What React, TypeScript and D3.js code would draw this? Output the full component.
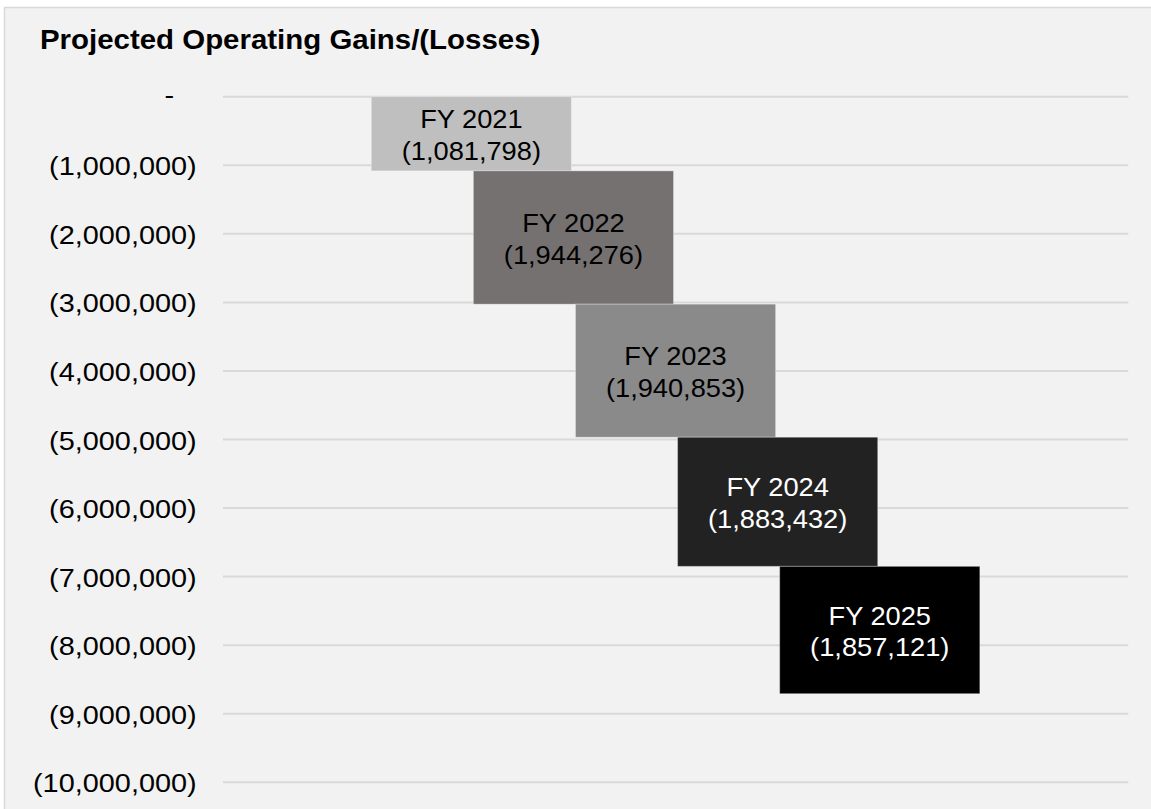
import React from "react";
import * as d3 from "d3";

const categories = ["FY 2021", "FY 2022", "FY 2023", "FY 2024", "FY 2025"];
const values = [-1081798, -1944276, -1940853, -1883432, -1857121];
const barColors = ["#bfbfbf", "#767171", "#8a8a8a", "#222222", "#000000"];
const labelColors = ["#000000", "#000000", "#000000", "#ffffff", "#ffffff"];
const yTicks = [0, -1000000, -2000000, -3000000, -4000000, -5000000, -6000000, -7000000, -8000000, -9000000, -10000000];
const title = "Projected Operating Gains/(Losses)";

const W = 1151;
const H = 809;
const SX = 1.09; // horizontal stretch of text in the reference
const FONT = "'Liberation Sans', Arial, sans-serif";

export default function App() {
  const y = d3.scaleLinear().domain([0, -10000000]).range([96.7, 782.3]);
  const x = d3.scaleBand<string>().domain(categories).range([420.3, 930.8]).padding(0);
  const barW = x.bandwidth() * 1.96;
  const gridX0 = 223;
  const gridX1 = 1128.3;

  let running = 0;
  const bars = values.map((v, i) => {
    const start = running;
    running += v;
    return { cat: categories[i], start, end: running, v, i };
  });

  const num = d3.format(",");
  const tickFmt = (t: number) => (t === 0 ? "-" : `(${num(Math.abs(t))})`);

  return (
    <svg width={W} height={H} style={{ position: "absolute", left: 0, top: 0, display: "block" }} fontFamily={FONT}>
      <rect x={0} y={0} width={W} height={H} fill="#ffffff" />
      <rect x={4.5} y={7.5} width={W + 10} height={H + 10} fill="#f2f2f2" stroke="#d9d9d9" strokeWidth={1.5} />
      <g transform={`translate(40,48.5) scale(${SX},1)`}>
        <text fontSize={27} fontWeight="bold" fill="#000">{title}</text>
      </g>
      {yTicks.map((t) => (
        <g key={t}>
          <line x1={gridX0} x2={gridX1} y1={y(t)} y2={y(t)} stroke="#d9d9d9" strokeWidth={2} />
          {t === 0 ? (
            <g transform={`translate(174,${y(t) + 7.5}) scale(${SX},1)`}>
              <text fontSize={26.5} textAnchor="end" fill="#000">{tickFmt(t)}</text>
            </g>
          ) : (
            <g transform={`translate(196.7,${y(t) + 10}) scale(${SX},1)`}>
              <text fontSize={26.5} textAnchor="end" fill="#000">{tickFmt(t)}</text>
            </g>
          )}
        </g>
      ))}
      {bars.map((b) => {
        const cx = (x(b.cat) as number) + x.bandwidth() / 2;
        const y0 = y(b.start);
        const y1 = y(b.end);
        const cy = (y0 + y1) / 2;
        return (
          <g key={b.cat}>
            <rect
              x={cx - barW / 2}
              y={Math.min(y0, y1)}
              width={barW}
              height={Math.abs(y1 - y0)}
              fill={barColors[b.i]}
              stroke="#ffffff"
              strokeOpacity={0.3}
              strokeWidth={1}
            />
            <g transform={`translate(${cx},${cy - 5.5}) scale(${SX},1)`}>
              <text fontSize={25} textAnchor="middle" fill={labelColors[b.i]}>{b.cat}</text>
            </g>
            <g transform={`translate(${cx},${cy + 26}) scale(${SX},1)`}>
              <text fontSize={25} textAnchor="middle" fill={labelColors[b.i]}>{`(${num(Math.abs(b.v))})`}</text>
            </g>
          </g>
        );
      })}
    </svg>
  );
}
